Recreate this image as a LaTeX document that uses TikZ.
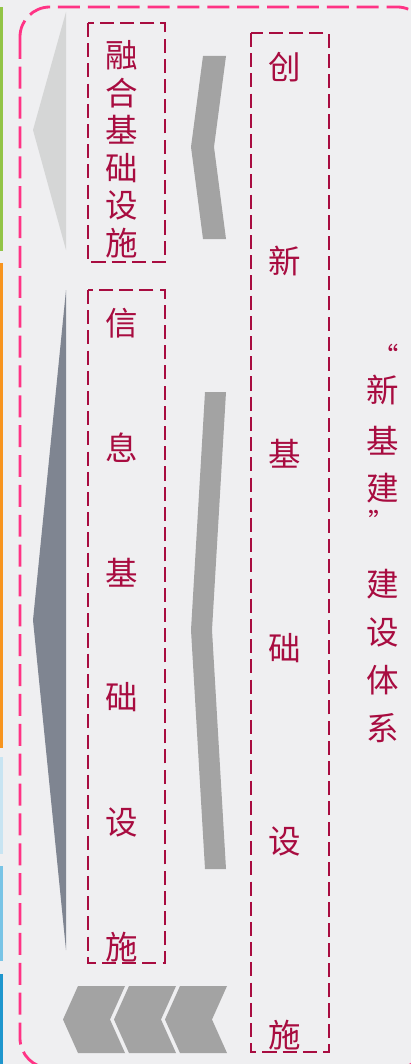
\documentclass[tikz,border=0pt]{standalone}
\usepackage{fontspec}
\newfontfamily\cjk{Noto Sans CJK SC}
\usepackage{tikz}
\definecolor{crimson}{RGB}{168,12,64}
\definecolor{hotpink}{RGB}{255,51,133}
\definecolor{chevgray}{RGB}{163,163,163}
\definecolor{lightarrow}{RGB}{213,214,214}
\definecolor{slatearrow}{RGB}{127,133,145}
\definecolor{paper}{RGB}{239,239,241}
\tikzstyle{hanzi} = [font=\cjk\fontsize{18.5}{18.5}\selectfont,text=crimson,inner sep=0pt]
\tikzstyle{quotemark} = [hanzi,font=\cjk\fontsize{15}{15}\selectfont,text height=0.81em,text depth=-0.49em]
\tikzstyle{dashbox} = [draw=crimson,line width=1.1pt,dash pattern=on 8pt off 3.5pt]
\tikzstyle{outerbox} = [draw=hotpink,line width=1.6pt,dash pattern=on 12.5pt off 4.5pt,rounded corners=17pt]
\tikzstyle{sidebar} = [line width=1.7pt]

\begin{document}
\begin{tikzpicture}[x=0.02cm,y=-0.02cm]
          \useasboundingbox (0,0) rectangle (411,1064);
          \fill[paper] (0,0) rectangle (411,1064);
          \clip (0,0) rectangle (411,1064);

          % bars cut off at the left edge
          \draw[sidebar, draw={rgb,255:red,146;green,196;blue,70}] (-10,8) rectangle (1.5,250);
          \draw[sidebar, draw={rgb,255:red,247;green,148;blue,30}] (-10,264) rectangle (1.5,746);
          \draw[sidebar, draw={rgb,255:red,200;green,228;blue,242}] (-10,758) rectangle (1.5,852);
          \draw[sidebar, draw={rgb,255:red,120;green,196;blue,230}] (-10,867) rectangle (1.5,959);
          \draw[sidebar, draw={rgb,255:red,30;green,150;blue,205}] (-10,975) rectangle (1.5,1080);

          \draw[outerbox] (20,7) rectangle (427,1068);

          % arrow heads
          \fill[lightarrow] (66,12) -- (33,130) -- (66,250) -- cycle;
          \fill[slatearrow] (66,290) -- (33,620) -- (66,950) -- cycle;

          % chevrons
          \fill[chevgray] (203,56) -- (226,56) -- (214,147) -- (226,239) -- (203,239) -- (191,147) -- cycle;
          \fill[chevgray] (205,392) -- (226,392) -- (212,630) -- (226,869) -- (205,869) -- (191,630) -- cycle;
          \foreach \k in {0,1,2}
            \fill[chevgray] ({78+51*\k},986) -- ({125+51*\k},986) -- ({110+51*\k},1019.5)
              -- ({125+51*\k},1053) -- ({78+51*\k},1053) -- ({63+51*\k},1019.5) -- cycle;

          \draw[dashbox] (88,23) rectangle (165,262);
          \draw[dashbox] (88,290) rectangle (165,963);
          \draw[dashbox] (251,33) rectangle (329,1052);

          \foreach \ch [count=\i] in {融,合,基,础,设,施}
            \node[hanzi] (fuse\i) at (122,{55+37.6*(\i-1)}) {\ch};
          \foreach \ch [count=\i] in {信,息,基,础,设,施}
            \node[hanzi] (info\i) at (122,{323+124.8*(\i-1)}) {\ch};
          \foreach \ch [count=\i] in {创,新,基,础,设,施}
            \node[hanzi] (innov\i) at (285,{67+193.6*(\i-1)}) {\ch};

          % title, one character per line
          \node[quotemark] (quoteL) at (385.5,359) {“};
          \node[hanzi] (title1) at (383,390) {新};
          \node[hanzi] (title2) at (383,441) {基};
          \node[hanzi] (title3) at (383,488) {建};
          \node[quotemark] (quoteR) at (382,525) {”};
          \foreach \ch [count=\i] in {建,设,体,系}
            \node[hanzi] (sys\i) at (383,{584+48*(\i-1)}) {\ch};
        \end{tikzpicture}
\end{document}
